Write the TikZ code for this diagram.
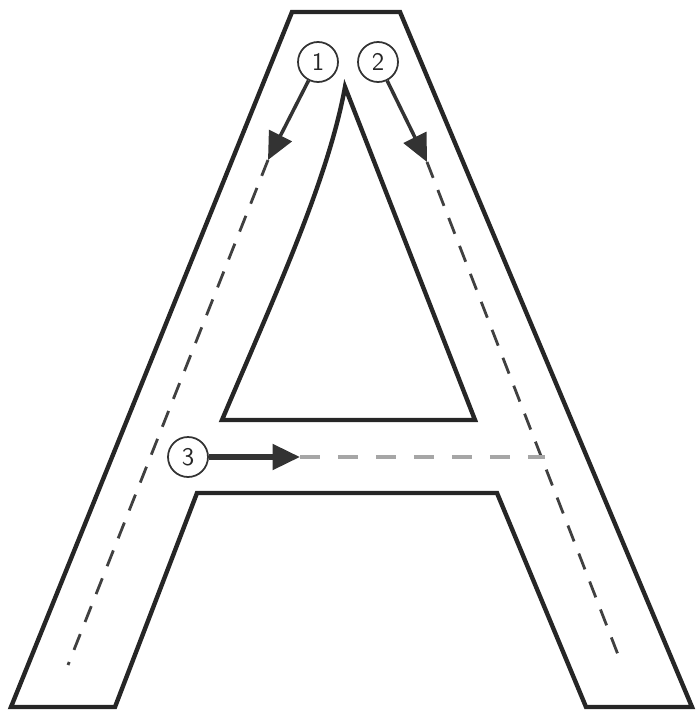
\documentclass[tikz,border=0pt]{standalone}
\usepackage{tikz}
\usetikzlibrary{arrows.meta, positioning}

\begin{document}
\begin{tikzpicture}[
        % Définition des styles (1 unité = 1 pixel de l'image)
        x=0.02cm, y=-0.02cm,
        % Style du contour de la lettre
        contour/.style = {
            line width=2.5pt,
            draw=black!85,
            line join=miter
        },
        % Style des numéros cerclés
        numero/.style = {
            circle,
            draw=black!80,
            line width=1pt,
            minimum size=0.8cm,
            inner sep=0pt,
            font=\sffamily\Large,
            text=black!85
        },
        % Style des flèches
        fleche/.style = {
            -{Triangle[length=0.55cm, width=0.5cm]},
            line width=2pt,
            draw=black!80
        },
        % Style des tracés en pointillés
        guide/.style = {
            dash pattern=on 0.34cm off 0.26cm,
            line width=1.6pt,
            draw=black!75
        },
        guideh/.style = {
            dash pattern=on 0.4cm off 0.36cm,
            line width=2pt,
            draw=gray!70
        }
    ]

        \useasboundingbox (0,0) rectangle (696,713);

        % 1. Contour de la lettre A
        \draw [contour] (292,12) -- (400,12) -- (692,707) -- (586,707)
            -- (497,493) -- (197,493) -- (115,707) -- (11,707) -- cycle;
        \draw [contour] (222,420) .. controls (275,295) and (328,180) .. (345,87)
            -- (475,420) -- cycle;

        % 2. Placement des numéros (Nodes)
        \node (c1) [numero] at (318,62) {1};
        \node (c2) [numero] at (378,62) {2};
        \node (c3) [numero] at (188,457) {3};

        % 3. Points d'arrivée des flèches et fin des tracés
        \coordinate (p1) at (268,160);
        \coordinate (p2) at (427,162);
        \coordinate (p3) at (300,457);
        \coordinate (f1) at (68,665);
        \coordinate (f2) at (622,665);
        \coordinate (f3) at (545,457);

        % 4. Tracé des flèches et des pointillés
        \draw [fleche] (c1) -- (p1);
        \draw [fleche] (c2) -- (p2);
        \draw [fleche, line width=3pt] (c3) -- (p3);
        \draw [guide] (p1) -- (f1);
        \draw [guide] (p2) -- (f2);
        \draw [guideh] (p3) -- (f3);

    \end{tikzpicture}
\end{document}
